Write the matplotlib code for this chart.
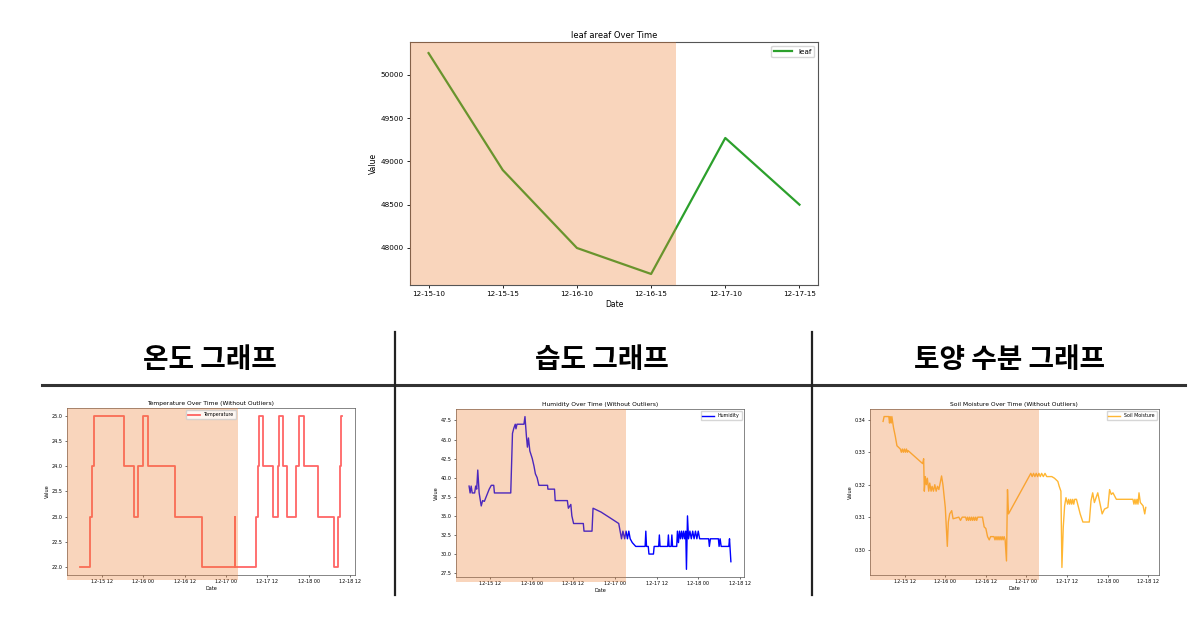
import numpy as np
import pandas as pd
import matplotlib
matplotlib.use("Agg")
import matplotlib.pyplot as plt
import matplotlib.dates as mdates
import matplotlib.lines as mlines
from matplotlib.ticker import FormatStrFormatter

# leaf area (top chart)
leaf_dates = ['12-15-10', '12-15-15', '12-16-10', '12-16-15', '12-17-10', '12-17-15']
leaf_values = [50250, 48900, 48000, 47700, 49270, 48500]

# sensor data, hours after 12-15 00:00
temp_hours = [5.74, 8.63, 9.11, 9.88, 18.45, 21.24, 22.59, 23.84, 25.48, 33.37, 41.17,
              50.5, 50.6, 56.76, 57.24, 57.53, 58.69, 61.77, 63.02, 63.40, 64.46, 65.71,
              68.41, 69.08, 70.72, 74.57, 79.38, 80.35, 80.92, 81.40, 81.60]
temp_values = [22.0, 23.0, 24.0, 25.0, 24.0, 23.0, 24.0, 25.0, 24.0, 23.0, 22.0,
               23.0, 22.0, 23.0, 24.0, 25.0, 24.0, 23.0, 24.0, 25.0, 24.0, 23.0,
               24.0, 25.0, 24.0, 23.0, 22.0, 23.0, 24.0, 25.0, 25.0]

hum_hours = [6.0, 6.3, 6.6, 6.9, 7.6, 7.9, 8.2, 8.5, 8.9, 9.5, 9.9, 10.4, 11.8, 12.4, 13.1, 13.3,
             18.0, 18.5, 18.9, 19.3, 19.5, 19.8, 21.8, 22.1, 22.5, 22.8, 23.1, 23.5, 24.2, 24.7,
             25.1, 25.6, 26.1, 28.6, 28.7, 30.6, 30.8, 34.3, 34.6, 35.3, 35.6, 36.1, 38.9, 39.1,
             41.4, 41.7, 44.0, 46.4, 49.1, 49.5, 49.9, 50.3, 50.8, 51.2, 51.6, 52.0, 52.4, 53.0,
             54.0, 56.7, 56.9, 57.1, 57.6, 57.8, 59.1, 59.3, 60.6, 60.8, 61.0, 63.2, 63.4, 63.6,
             64.2, 64.4, 64.6, 65.8, 66.0, 66.3, 66.6, 66.9, 67.2, 67.5, 67.8, 68.1, 68.4, 68.6,
             68.9, 69.2, 69.6, 70.0, 70.4, 70.8, 71.2, 71.6, 72.0, 72.4, 75.0, 75.2, 75.5, 77.8,
             78.0, 78.3, 78.6, 80.8, 81.0, 81.4]
hum_values = [38.9, 38.0, 38.9, 38.0, 38.0, 38.9, 38.5, 41.0, 38.0, 36.3, 37.0, 36.9, 38.5, 39.0, 39.0, 38.0,
              38.0, 45.8, 46.5, 47.0, 46.4, 47.0, 47.0, 48.0, 45.5, 44.0, 45.2, 43.5, 42.5, 41.5,
              40.5, 40.0, 39.0, 39.0, 38.5, 38.5, 37.0, 37.0, 36.0, 36.5, 35.0, 34.0, 34.0, 33.0,
              33.0, 36.0, 35.5, 34.8, 34.0, 33.0, 32.0, 33.0, 32.0, 33.0, 32.0, 33.0, 32.0, 31.5,
              31.0, 31.0, 33.0, 31.0, 31.0, 30.0, 30.0, 31.0, 31.0, 32.5, 31.0, 31.0, 32.5, 31.0,
              31.0, 32.5, 31.0, 31.0, 33.0, 31.5, 33.0, 32.0, 33.0, 32.0, 33.0, 32.0, 33.0, 28.0,
              35.0, 32.0, 33.0, 32.0, 33.0, 32.0, 33.0, 32.0, 33.0, 32.0, 32.0, 31.0, 32.0, 32.0,
              31.0, 32.0, 31.0, 31.0, 32.0, 29.0]

soil_hours = [5.6, 5.9, 7.3, 7.5, 7.7, 8.0, 8.2, 8.7, 9.2, 9.7, 10.7, 11.0, 11.3, 11.6, 11.9, 12.2,
              12.5, 12.8, 13.0, 17.3, 17.6, 17.8, 18.1, 18.4, 18.7, 19.1, 19.4, 19.8, 20.1, 20.5,
              20.9, 21.3, 21.7, 22.1, 22.9, 23.3, 23.7, 24.0, 24.3, 24.6, 24.9, 25.3, 25.9, 26.3,
              28.0, 28.5, 29.0, 30.0, 30.3, 30.6, 30.9, 31.2, 31.5, 31.8, 32.1, 32.4, 32.7, 33.0,
              33.3, 33.6, 35.0, 35.5, 36.0, 36.5, 37.0, 37.4, 38.4, 38.7, 39.0, 39.3, 39.6, 39.9,
              40.2, 40.5, 40.8, 41.1, 41.4, 41.7, 42.1, 42.4, 42.7, 49.3, 49.7, 50.1, 50.5, 50.9,
              51.3, 51.7, 52.1, 52.5, 53.0, 53.5, 54.0, 55.5, 56.3, 57.3, 57.7, 58.2, 58.5, 58.9,
              59.3, 59.7, 60.2, 60.5, 60.8, 61.1, 61.4, 61.7, 62.0, 62.3, 62.8, 63.9, 64.7, 66.6,
              67.1, 67.6, 68.1, 68.6, 69.1, 69.6, 70.4, 71.1, 72.1, 72.6, 73.1, 73.6, 74.6, 79.5,
              79.8, 80.1, 80.4, 80.7, 81.0, 81.3, 81.7, 82.5, 83.0, 83.3]
soil_values = [.3395, .341, .341, .339, .341, .339, .341, .3375, .335, .332, .331, .330, .331, .330, .331, .330,
               .331, .330, .3305, .3265, .328, .318, .3225, .320, .322, .318, .3205, .318, .3195, .318,
               .320, .318, .3195, .3185, .3227, .320, .316, .313, .307, .301, .3085, .311, .312, .3095,
               .310, .309, .310, .310, .309, .310, .309, .310, .309, .310, .309, .310, .309, .310,
               .309, .310, .310, .307, .3065, .304, .303, .304, .304, .303, .304, .303, .304, .303,
               .304, .303, .304, .303, .304, .303, .2965, .3185, .311, .3235, .3225, .3235, .3225, .3235,
               .3225, .3235, .3225, .3235, .3225, .3235, .3225, .3225, .322, .321, .3195, .318, .2945, .307,
               .3135, .316, .314, .3155, .314, .3155, .314, .3155, .314, .3155, .3155, .311, .3085, .3085,
               .315, .3175, .3145, .316, .3175, .315, .311, .3125, .313, .3185, .317, .3175, .3155, .3155,
               .314, .3155, .314, .3155, .314, .3175, .3145, .3135, .311, .313]

shade_end_hours = [51.4, 51.2, 51.6]
headers = ['온도 그래프', '습도 그래프', '토양 수분 그래프']
start = pd.Timestamp('2023-12-15 00:00')
shade_color = '#ED7D31'


def to_dates(hours):
    return start + pd.to_timedelta(np.array(hours), unit='h')


fig = plt.figure(figsize=(11.94, 6.2), dpi=100)

# ---- top chart ----
ax = fig.add_axes([0.3434, 0.5403, 0.3417, 0.3919])
ax.plot(leaf_dates, leaf_values, color='tab:green', lw=1.6, label='leaf')
ax.set_xlim(-0.25, 5.25)
ax.axvspan(-0.25, 3.34, color=shade_color, alpha=0.32, lw=0, zorder=3)
ax.set_title('leaf areaf Over Time', fontsize=6, pad=3)
ax.set_xlabel('Date', fontsize=5.5, labelpad=2)
ax.set_ylabel('Value', fontsize=5.5, labelpad=2)
ax.tick_params(labelsize=5.2, length=2.5, width=0.6, pad=2)
for s in ax.spines.values():
    s.set_linewidth(0.8)
    s.set_color('#555555')
ax.legend(loc='upper right', fontsize=5.2, handlelength=2.5)

# ---- bottom panels ----
panels = [
    ([0.0561, 0.0726, 0.2412, 0.2694], temp_hours, temp_values, 'red', 0.6, 1.3,
     'Temperature', 'Temperature Over Time (Without Outliers)', 'upper center', 'steps-post', '%.1f'),
    ([0.3819, 0.0694, 0.2412, 0.2710], hum_hours, hum_values, 'blue', 1.0, 1.0,
     'Humidity', 'Humidity Over Time (Without Outliers)', 'upper right', 'default', '%.1f'),
    ([0.7286, 0.0726, 0.2420, 0.2677], soil_hours, soil_values, 'orange', 0.8, 1.0,
     'Soil Moisture', 'Soil Moisture Over Time (Without Outliers)', 'upper right', 'default', '%.2f'),
]

for (rect, hrs, vals, col, alp, lw, lab, title, loc, ds, fmt), shade_end in zip(panels, shade_end_hours):
    a = fig.add_axes(rect)
    a.plot(to_dates(hrs), vals, color=col, alpha=alp, lw=lw, label=lab, drawstyle=ds)
    x0, x1 = a.get_xlim()
    a.axvspan(x0, mdates.date2num(to_dates([shade_end])[0]), ymin=-0.03, ymax=1,
              color=shade_color, alpha=0.32, lw=0, zorder=3, clip_on=False)
    a.set_xlim(x0, x1)
    a.xaxis.set_major_locator(mdates.HourLocator(byhour=[0, 12]))
    a.xaxis.set_major_formatter(mdates.DateFormatter('%m-%d %H'))
    a.yaxis.set_major_formatter(FormatStrFormatter(fmt))
    a.set_title(title, fontsize=4.3, pad=2)
    a.set_xlabel('Date', fontsize=3.6, labelpad=1.5)
    a.set_ylabel('Value', fontsize=3.6, labelpad=1.5)
    a.tick_params(labelsize=3.5, length=1.5, width=0.4, pad=1.5)
    for s in a.spines.values():
        s.set_linewidth(0.5)
        s.set_color('#555555')
    a.legend(loc=loc, fontsize=3.4, handlelength=2.5, borderpad=0.4)

# ---- slide header row and dividers ----
for txt, xc in zip(headers, [210, 602, 1009]):
    fig.text(xc / 1194, 1 - 360 / 620, txt, ha='center', va='center', fontsize=20,
             fontweight='bold', family=['Noto Sans CJK KR', 'DejaVu Sans'])

fig.add_artist(mlines.Line2D([42 / 1194, 1185 / 1194], [1 - 385 / 620] * 2,
                             color='#333333', lw=2.2, transform=fig.transFigure))
for xv in [395, 812]:
    fig.add_artist(mlines.Line2D([xv / 1194] * 2, [1 - 332 / 620, 1 - 595 / 620],
                                 color='#222222', lw=1.6, transform=fig.transFigure))

fig.savefig('out.png', dpi=100)
